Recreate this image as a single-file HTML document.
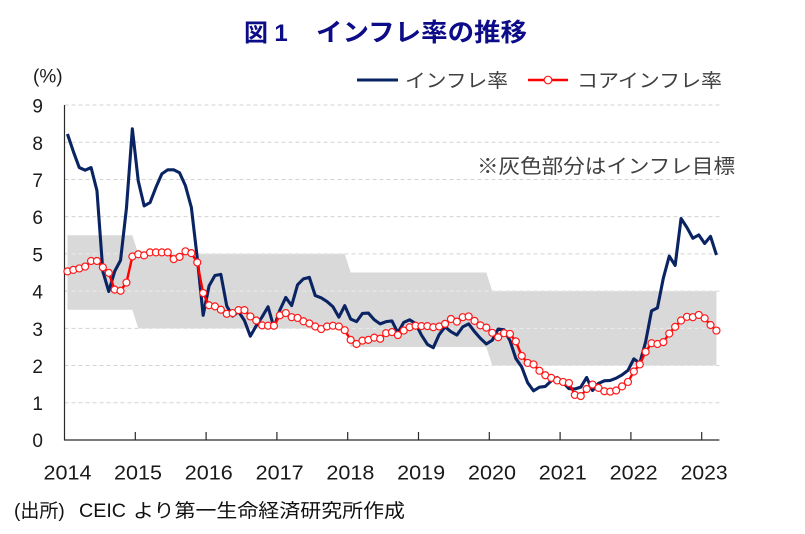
<!DOCTYPE html>
<html>
<head>
<meta charset="utf-8">
<style>
html,body{margin:0;padding:0;background:#fff;}
svg{display:block;}
text{font-family:"Liberation Sans","Noto Sans CJK JP",sans-serif;}
</style>
</head>
<body>
<svg width="805" height="534" viewBox="0 0 805 534" xmlns="http://www.w3.org/2000/svg">
<rect x="0" y="0" width="805" height="534" fill="#fff"/>
<defs>
<clipPath id="bandclip">
<polygon points="67.45,235.29 132.35,235.29 138.25,253.9 344.75,253.9 350.65,272.51 486.35,272.51 492.25,291.12 716.45,291.12 716.45,365.56 492.25,365.56 486.35,346.95 350.65,346.95 344.75,328.34 138.25,328.34 132.35,309.73 67.45,309.73"/>
</clipPath>
</defs>

<!-- title -->
<g fill="#0c0c88" font-weight="bold">
<text x="244" y="41" font-size="24" font-family="Noto Sans CJK JP, sans-serif">図</text>
<text x="281" y="41" font-size="24" text-anchor="middle" font-family="Liberation Sans, sans-serif">1</text>
<text x="316" y="41" font-size="25" textLength="211" lengthAdjust="spacingAndGlyphs" font-family="Noto Sans CJK JP, sans-serif">インフレ率の推移</text>
</g>

<!-- gridlines under band -->
<g stroke="#d3d3d3" stroke-width="1" stroke-dasharray="4 3" fill="none">
<line x1="64.5" y1="402.78" x2="719.4" y2="402.78"/>
<line x1="64.5" y1="365.56" x2="719.4" y2="365.56"/>
<line x1="64.5" y1="328.34" x2="719.4" y2="328.34"/>
<line x1="64.5" y1="291.12" x2="719.4" y2="291.12"/>
<line x1="64.5" y1="253.9" x2="719.4" y2="253.9"/>
<line x1="64.5" y1="216.68" x2="719.4" y2="216.68"/>
<line x1="64.5" y1="179.46" x2="719.4" y2="179.46"/>
<line x1="64.5" y1="142.24" x2="719.4" y2="142.24"/>
<line x1="64.5" y1="105.02" x2="719.4" y2="105.02"/>
</g>

<!-- target band -->
<polygon fill="#d9d9d9" points="67.45,235.29 132.35,235.29 138.25,253.9 344.75,253.9 350.65,272.51 486.35,272.51 492.25,291.12 716.45,291.12 716.45,365.56 492.25,365.56 486.35,346.95 350.65,346.95 344.75,328.34 138.25,328.34 132.35,309.73 67.45,309.73"/>
<g clip-path="url(#bandclip)" stroke="#ececec" stroke-width="1" stroke-dasharray="4 3" fill="none">
<line x1="64.5" y1="365.56" x2="719.4" y2="365.56"/>
<line x1="64.5" y1="328.34" x2="719.4" y2="328.34"/>
<line x1="64.5" y1="291.12" x2="719.4" y2="291.12"/>
<line x1="64.5" y1="253.9" x2="719.4" y2="253.9"/>
</g>

<!-- axes -->
<g stroke="#2a2a2a" stroke-width="1.2" fill="none">
<line x1="64.5" y1="105" x2="64.5" y2="440.5"/>
<line x1="64" y1="440" x2="719.4" y2="440"/>
<line x1="135.3" y1="432" x2="135.3" y2="440"/>
<line x1="206.1" y1="432" x2="206.1" y2="440"/>
<line x1="276.9" y1="432" x2="276.9" y2="440"/>
<line x1="347.7" y1="432" x2="347.7" y2="440"/>
<line x1="418.5" y1="432" x2="418.5" y2="440"/>
<line x1="489.3" y1="432" x2="489.3" y2="440"/>
<line x1="560.1" y1="432" x2="560.1" y2="440"/>
<line x1="630.9" y1="432" x2="630.9" y2="440"/>
<line x1="701.7" y1="432" x2="701.7" y2="440"/>
</g>

<!-- y labels -->
<g font-size="19" fill="#1a1a1a" text-anchor="end">
<text x="43" y="447">0</text>
<text x="43" y="410">1</text>
<text x="43" y="373">2</text>
<text x="43" y="336">3</text>
<text x="43" y="298.5">4</text>
<text x="43" y="261.5">5</text>
<text x="43" y="224">6</text>
<text x="43" y="187">7</text>
<text x="43" y="150">8</text>
<text x="43" y="112.5">9</text>
</g>
<text x="33" y="82.7" font-size="19" fill="#1a1a1a">(%)</text>

<!-- x labels -->
<g font-size="20" fill="#1a1a1a" text-anchor="middle">
<text x="67.5" y="479.5" textLength="48" lengthAdjust="spacingAndGlyphs">2014</text>
<text x="138" y="479.5" textLength="48" lengthAdjust="spacingAndGlyphs">2015</text>
<text x="208.8" y="479.5" textLength="48" lengthAdjust="spacingAndGlyphs">2016</text>
<text x="279.6" y="479.5" textLength="48" lengthAdjust="spacingAndGlyphs">2017</text>
<text x="350.4" y="479.5" textLength="48" lengthAdjust="spacingAndGlyphs">2018</text>
<text x="421.2" y="479.5" textLength="48" lengthAdjust="spacingAndGlyphs">2019</text>
<text x="492" y="479.5" textLength="48" lengthAdjust="spacingAndGlyphs">2020</text>
<text x="562.8" y="479.5" textLength="48" lengthAdjust="spacingAndGlyphs">2021</text>
<text x="633.6" y="479.5" textLength="48" lengthAdjust="spacingAndGlyphs">2022</text>
<text x="704.2" y="479.5" textLength="47" lengthAdjust="spacingAndGlyphs">2023</text>
</g>

<!-- headline inflation -->
<polyline fill="none" stroke="#0a2463" stroke-width="3.1" stroke-linejoin="round" points="67.45,134.05 73.35,151.54 79.25,167.55 85.15,170.15 91.05,167.55 96.95,190.63 102.85,271.39 108.75,291.49 114.65,271.39 120.55,260.23 126.45,208.12 132.35,128.84 138.25,180.95 144.15,205.89 150.05,202.54 155.95,187.28 161.85,173.88 167.75,169.78 173.65,169.78 179.55,172.76 185.45,185.79 191.35,207.37 197.25,257.99 203.15,315.31 209.05,285.91 214.95,275.49 220.85,274.37 226.75,306.01 232.65,316.06 238.55,311.59 244.45,320.52 250.35,336.16 256.25,325.73 262.15,316.8 268.05,306.75 273.95,327.6 279.85,310.1 285.75,297.45 291.65,305.64 297.55,284.79 303.45,278.84 309.35,277.35 315.25,295.59 321.15,297.82 327.05,301.54 332.95,306.75 338.85,317.17 344.75,305.64 350.65,319.03 356.55,321.64 362.45,313.45 368.35,313.08 374.25,319.78 380.15,323.87 386.05,321.64 391.95,320.9 397.85,332.81 403.75,322.38 409.65,319.78 415.55,323.5 421.45,335.04 427.35,344.34 433.25,347.69 439.15,334.67 445.05,326.85 450.95,331.69 456.85,335.04 462.75,326.85 468.65,323.87 474.55,331.69 480.45,338.39 486.35,343.97 492.25,340.25 498.15,329.08 504.05,329.83 509.95,340.62 515.85,358.49 521.75,367.05 527.65,382.68 533.55,390.87 539.45,387.15 545.35,386.4 551.25,380.82 557.15,377.47 563.05,382.31 568.95,388.64 574.85,389.01 580.75,387.15 586.65,377.47 592.55,390.5 598.45,383.43 604.35,380.82 610.25,380.45 616.15,378.21 622.05,374.86 627.95,370.4 633.85,358.86 639.75,363.33 645.65,341.74 651.55,310.85 657.45,307.87 663.35,278.09 669.25,256.13 675.15,265.44 681.05,218.54 686.95,227.47 692.85,238.27 698.75,234.92 704.65,243.48 710.55,236.41 716.45,255.02"/>

<!-- core inflation line -->
<polyline fill="none" stroke="#ff0000" stroke-width="2.4" stroke-linejoin="round" points="67.45,271.39 73.35,269.9 79.25,268.42 85.15,266.55 91.05,260.97 96.95,260.97 102.85,267.3 108.75,272.88 114.65,289.63 120.55,290.75 126.45,282.56 132.35,256.51 138.25,254.27 144.15,255.39 150.05,252.41 155.95,252.41 161.85,252.41 167.75,252.41 173.65,259.11 179.55,256.88 185.45,251.29 191.35,253.16 197.25,262.46 203.15,292.98 209.05,305.26 214.95,306.38 220.85,309.73 226.75,313.82 232.65,313.08 238.55,310.1 244.45,310.1 250.35,316.43 256.25,320.52 262.15,325.36 268.05,325.73 273.95,325.73 279.85,315.31 285.75,313.08 291.65,317.17 297.55,317.92 303.45,321.27 309.35,323.5 315.25,326.48 321.15,329.08 327.05,326.48 332.95,325.73 338.85,326.48 344.75,330.2 350.65,339.88 356.55,343.97 362.45,340.62 368.35,339.88 374.25,337.64 380.15,338.76 386.05,333.18 391.95,332.06 397.85,335.04 403.75,330.57 409.65,327.22 415.55,325.73 421.45,326.11 427.35,326.11 433.25,327.22 439.15,326.48 445.05,323.87 450.95,319.03 456.85,321.64 462.75,317.17 468.65,316.43 474.55,320.9 480.45,325.36 486.35,327.6 492.25,332.81 498.15,337.27 504.05,333.18 509.95,333.92 515.85,341.37 521.75,355.88 527.65,362.95 533.55,364.44 539.45,370.77 545.35,375.24 551.25,377.84 557.15,380.45 563.05,381.94 568.95,383.05 574.85,394.96 580.75,396.08 586.65,389.01 592.55,384.54 598.45,387.89 604.35,391.24 610.25,391.61 616.15,390.5 622.05,386.4 627.95,381.94 633.85,371.52 639.75,364.44 645.65,351.79 651.55,343.23 657.45,343.97 663.35,342.11 669.25,333.55 675.15,326.85 681.05,320.52 686.95,316.8 692.85,317.17 698.75,314.94 704.65,318.29 710.55,324.99 716.45,330.57"/>

<!-- core markers -->
<g fill="#ffffff" stroke="#ff1a1a" stroke-width="1.2">
<circle cx="67.45" cy="271.39" r="3.5"/><circle cx="73.35" cy="269.9" r="3.5"/><circle cx="79.25" cy="268.42" r="3.5"/><circle cx="85.15" cy="266.55" r="3.5"/><circle cx="91.05" cy="260.97" r="3.5"/><circle cx="96.95" cy="260.97" r="3.5"/><circle cx="102.85" cy="267.3" r="3.5"/><circle cx="108.75" cy="272.88" r="3.5"/><circle cx="114.65" cy="289.63" r="3.5"/><circle cx="120.55" cy="290.75" r="3.5"/><circle cx="126.45" cy="282.56" r="3.5"/><circle cx="132.35" cy="256.51" r="3.5"/>
<circle cx="138.25" cy="254.27" r="3.5"/><circle cx="144.15" cy="255.39" r="3.5"/><circle cx="150.05" cy="252.41" r="3.5"/><circle cx="155.95" cy="252.41" r="3.5"/><circle cx="161.85" cy="252.41" r="3.5"/><circle cx="167.75" cy="252.41" r="3.5"/><circle cx="173.65" cy="259.11" r="3.5"/><circle cx="179.55" cy="256.88" r="3.5"/><circle cx="185.45" cy="251.29" r="3.5"/><circle cx="191.35" cy="253.16" r="3.5"/><circle cx="197.25" cy="262.46" r="3.5"/><circle cx="203.15" cy="292.98" r="3.5"/>
<circle cx="209.05" cy="305.26" r="3.5"/><circle cx="214.95" cy="306.38" r="3.5"/><circle cx="220.85" cy="309.73" r="3.5"/><circle cx="226.75" cy="313.82" r="3.5"/><circle cx="232.65" cy="313.08" r="3.5"/><circle cx="238.55" cy="310.1" r="3.5"/><circle cx="244.45" cy="310.1" r="3.5"/><circle cx="250.35" cy="316.43" r="3.5"/><circle cx="256.25" cy="320.52" r="3.5"/><circle cx="262.15" cy="325.36" r="3.5"/><circle cx="268.05" cy="325.73" r="3.5"/><circle cx="273.95" cy="325.73" r="3.5"/>
<circle cx="279.85" cy="315.31" r="3.5"/><circle cx="285.75" cy="313.08" r="3.5"/><circle cx="291.65" cy="317.17" r="3.5"/><circle cx="297.55" cy="317.92" r="3.5"/><circle cx="303.45" cy="321.27" r="3.5"/><circle cx="309.35" cy="323.5" r="3.5"/><circle cx="315.25" cy="326.48" r="3.5"/><circle cx="321.15" cy="329.08" r="3.5"/><circle cx="327.05" cy="326.48" r="3.5"/><circle cx="332.95" cy="325.73" r="3.5"/><circle cx="338.85" cy="326.48" r="3.5"/><circle cx="344.75" cy="330.2" r="3.5"/>
<circle cx="350.65" cy="339.88" r="3.5"/><circle cx="356.55" cy="343.97" r="3.5"/><circle cx="362.45" cy="340.62" r="3.5"/><circle cx="368.35" cy="339.88" r="3.5"/><circle cx="374.25" cy="337.64" r="3.5"/><circle cx="380.15" cy="338.76" r="3.5"/><circle cx="386.05" cy="333.18" r="3.5"/><circle cx="391.95" cy="332.06" r="3.5"/><circle cx="397.85" cy="335.04" r="3.5"/><circle cx="403.75" cy="330.57" r="3.5"/><circle cx="409.65" cy="327.22" r="3.5"/><circle cx="415.55" cy="325.73" r="3.5"/>
<circle cx="421.45" cy="326.11" r="3.5"/><circle cx="427.35" cy="326.11" r="3.5"/><circle cx="433.25" cy="327.22" r="3.5"/><circle cx="439.15" cy="326.48" r="3.5"/><circle cx="445.05" cy="323.87" r="3.5"/><circle cx="450.95" cy="319.03" r="3.5"/><circle cx="456.85" cy="321.64" r="3.5"/><circle cx="462.75" cy="317.17" r="3.5"/><circle cx="468.65" cy="316.43" r="3.5"/><circle cx="474.55" cy="320.9" r="3.5"/><circle cx="480.45" cy="325.36" r="3.5"/><circle cx="486.35" cy="327.6" r="3.5"/>
<circle cx="492.25" cy="332.81" r="3.5"/><circle cx="498.15" cy="337.27" r="3.5"/><circle cx="504.05" cy="333.18" r="3.5"/><circle cx="509.95" cy="333.92" r="3.5"/><circle cx="515.85" cy="341.37" r="3.5"/><circle cx="521.75" cy="355.88" r="3.5"/><circle cx="527.65" cy="362.95" r="3.5"/><circle cx="533.55" cy="364.44" r="3.5"/><circle cx="539.45" cy="370.77" r="3.5"/><circle cx="545.35" cy="375.24" r="3.5"/><circle cx="551.25" cy="377.84" r="3.5"/><circle cx="557.15" cy="380.45" r="3.5"/>
<circle cx="563.05" cy="381.94" r="3.5"/><circle cx="568.95" cy="383.05" r="3.5"/><circle cx="574.85" cy="394.96" r="3.5"/><circle cx="580.75" cy="396.08" r="3.5"/><circle cx="586.65" cy="389.01" r="3.5"/><circle cx="592.55" cy="384.54" r="3.5"/><circle cx="598.45" cy="387.89" r="3.5"/><circle cx="604.35" cy="391.24" r="3.5"/><circle cx="610.25" cy="391.61" r="3.5"/><circle cx="616.15" cy="390.5" r="3.5"/><circle cx="622.05" cy="386.4" r="3.5"/><circle cx="627.95" cy="381.94" r="3.5"/>
<circle cx="633.85" cy="371.52" r="3.5"/><circle cx="639.75" cy="364.44" r="3.5"/><circle cx="645.65" cy="351.79" r="3.5"/><circle cx="651.55" cy="343.23" r="3.5"/><circle cx="657.45" cy="343.97" r="3.5"/><circle cx="663.35" cy="342.11" r="3.5"/><circle cx="669.25" cy="333.55" r="3.5"/><circle cx="675.15" cy="326.85" r="3.5"/><circle cx="681.05" cy="320.52" r="3.5"/><circle cx="686.95" cy="316.8" r="3.5"/><circle cx="692.85" cy="317.17" r="3.5"/><circle cx="698.75" cy="314.94" r="3.5"/>
<circle cx="704.65" cy="318.29" r="3.5"/><circle cx="710.55" cy="324.99" r="3.5"/><circle cx="716.45" cy="330.57" r="3.5"/>
</g>

<!-- legend -->
<line x1="357" y1="80" x2="398" y2="80" stroke="#0a2463" stroke-width="3"/>
<text x="405" y="87" font-size="19" fill="#404040" textLength="103" lengthAdjust="spacingAndGlyphs">インフレ率</text>
<line x1="528" y1="80" x2="568" y2="80" stroke="#ff0000" stroke-width="2.4"/>
<circle cx="548" cy="80" r="3.8" fill="#fff" stroke="#ff1a1a" stroke-width="1.2"/>
<text x="577" y="87" font-size="19" fill="#404040" textLength="145" lengthAdjust="spacingAndGlyphs">コアインフレ率</text>

<!-- annotation -->
<text x="477" y="173" font-size="20" fill="#404040" textLength="258" lengthAdjust="spacingAndGlyphs">※灰色部分はインフレ目標</text>

<!-- footer -->
<text x="14" y="517" font-size="19" fill="#111">(出所)</text>
<text x="79" y="517" font-size="19" fill="#111" textLength="47" lengthAdjust="spacingAndGlyphs">CEIC</text>
<text x="133" y="517" font-size="19" fill="#111" textLength="272" lengthAdjust="spacingAndGlyphs">より第一生命経済研究所作成</text>
</svg>
</body>
</html>
